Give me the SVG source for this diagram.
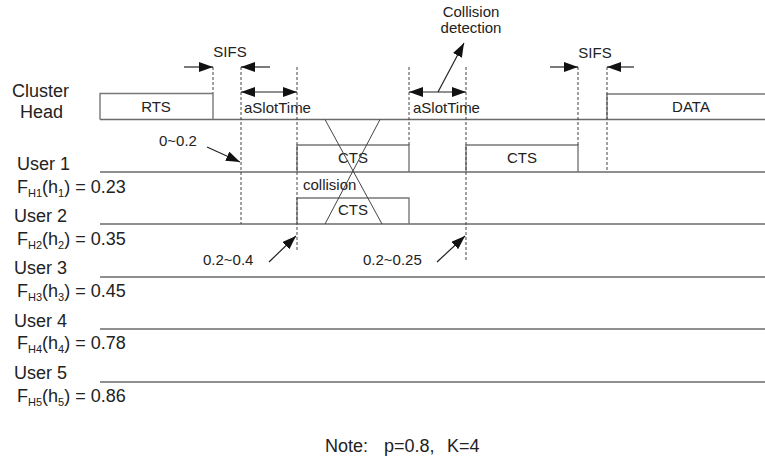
<svg xmlns="http://www.w3.org/2000/svg" width="765" height="459" viewBox="0 0 765 459">
<style>
text{font-family:"Liberation Sans",Arial,sans-serif;fill:#222}
.lbl{font-size:18px}
.sub{font-size:11px}
.t{font-size:15px}
.tl{stroke:#6a6a6a;stroke-width:1.6;fill:none}
.box{stroke:#777;stroke-width:1.4;fill:none}
.dash{stroke:#444;stroke-width:1;stroke-dasharray:3 2;fill:none}
.arr{stroke:#222;stroke-width:1.2;fill:none;marker-end:url(#ah)}
.dbl{stroke:#222;stroke-width:1.2;fill:none;marker-end:url(#ah);marker-start:url(#ahs)}
.x{stroke:#444;stroke-width:1;fill:none}
</style>
<defs>
<marker id="ah" markerUnits="userSpaceOnUse" markerWidth="14" markerHeight="10" refX="14" refY="5" orient="auto"><path d="M0,0 L14,5 L0,10 z" fill="#111"/></marker>
<marker id="ahs" markerUnits="userSpaceOnUse" markerWidth="14" markerHeight="10" refX="14" refY="5" orient="auto-start-reverse"><path d="M0,0 L14,5 L0,10 z" fill="#111"/></marker>
</defs>
<rect width="765" height="459" fill="#fff"/>

<g id="cluster-head">
<text class="lbl" x="12" y="97">Cluster</text>
<text class="lbl" x="20" y="118">Head</text>
<line class="tl" x1="100" y1="119.5" x2="765" y2="119.5"/>
<polyline class="box" points="100,119.5 100,93.5 213,93.5 213,119.5"/>
<text class="t" x="156" y="112" text-anchor="middle">RTS</text>
<polyline class="box" points="607,119.5 607,94 765,94"/>
<text class="t" x="691" y="112" text-anchor="middle">DATA</text>
</g>

<g id="user1">
<text class="lbl" x="17" y="170">User 1</text>
<text class="lbl" x="17" y="193">F<tspan class="sub" dy="4">H1</tspan><tspan dy="-4">(h</tspan><tspan class="sub" dy="4">1</tspan><tspan dy="-4">) = 0.23</tspan></text>
<line class="tl" x1="100" y1="172" x2="765" y2="172"/>
<polyline class="box" points="297,172 297,145 409,145 409,172"/>
<text class="t" x="353" y="163" text-anchor="middle">CTS</text>
<polyline class="box" points="466,172 466,145 578,145 578,172"/>
<text class="t" x="522" y="163" text-anchor="middle">CTS</text>
</g>

<g id="user2">
<text class="lbl" x="14" y="222">User 2</text>
<text class="lbl" x="17" y="245">F<tspan class="sub" dy="4">H2</tspan><tspan dy="-4">(h</tspan><tspan class="sub" dy="4">2</tspan><tspan dy="-4">) = 0.35</tspan></text>
<line class="tl" x1="100" y1="224" x2="765" y2="224"/>
<polyline class="box" points="297,224 297,198 409,198 409,224"/>
<text class="t" x="353" y="215" text-anchor="middle">CTS</text>
<text class="t" x="303" y="190">collision</text>
</g>

<g id="user3">
<text class="lbl" x="14" y="274">User 3</text>
<text class="lbl" x="17" y="297">F<tspan class="sub" dy="4">H3</tspan><tspan dy="-4">(h</tspan><tspan class="sub" dy="4">3</tspan><tspan dy="-4">) = 0.45</tspan></text>
<line class="tl" x1="100" y1="277" x2="765" y2="277"/>
</g>

<g id="user4">
<text class="lbl" x="14" y="327">User 4</text>
<text class="lbl" x="17" y="349">F<tspan class="sub" dy="4">H4</tspan><tspan dy="-4">(h</tspan><tspan class="sub" dy="4">4</tspan><tspan dy="-4">) = 0.78</tspan></text>
<line class="tl" x1="100" y1="329" x2="765" y2="329"/>
</g>

<g id="user5">
<text class="lbl" x="14" y="379">User 5</text>
<text class="lbl" x="17" y="402">F<tspan class="sub" dy="4">H5</tspan><tspan dy="-4">(h</tspan><tspan class="sub" dy="4">5</tspan><tspan dy="-4">) = 0.86</tspan></text>
<line class="tl" x1="100" y1="382" x2="765" y2="382"/>
</g>

<g id="guides">
<line class="dash" x1="213" y1="67" x2="213" y2="93"/>
<line class="dash" x1="241" y1="67" x2="241" y2="224"/>
<line class="dash" x1="297" y1="67" x2="297" y2="252"/>
<line class="dash" x1="409" y1="67" x2="409" y2="145"/>
<line class="dash" x1="466" y1="67" x2="466" y2="262"/>
<line class="dash" x1="578" y1="67" x2="578" y2="145"/>
<line class="dash" x1="607" y1="67" x2="607" y2="172"/>
<line class="x" x1="325" y1="119.5" x2="382" y2="224"/>
<line class="x" x1="380" y1="119.5" x2="325" y2="224"/>
</g>

<g id="connectors">
<line class="arr" x1="184" y1="67" x2="213" y2="67"/>
<line class="arr" x1="270" y1="67" x2="241" y2="67"/>
<line class="arr" x1="550" y1="67" x2="578" y2="67"/>
<line class="arr" x1="634" y1="67" x2="607" y2="67"/>
<line class="dbl" x1="241" y1="92" x2="297" y2="92"/>
<line class="dbl" x1="409" y1="92" x2="466" y2="92"/>
<line class="arr" x1="438" y1="92" x2="464" y2="43"/>
<line class="arr" x1="207" y1="147" x2="240" y2="162"/>
<line class="arr" x1="269" y1="262" x2="296" y2="236"/>
<line class="arr" x1="437" y1="262" x2="465" y2="236"/>
</g>

<g id="labels">
<text class="t" x="230" y="57" text-anchor="middle">SIFS</text>
<text class="t" x="595" y="58" text-anchor="middle">SIFS</text>
<text class="t" x="244" y="113">aSlotTime</text>
<text class="t" x="413" y="113">aSlotTime</text>
<text class="t" x="471" y="17" text-anchor="middle">Collision</text>
<text class="t" x="471" y="33" text-anchor="middle">detection</text>
<text class="t" x="159" y="146">0~0.2</text>
<text class="t" x="203" y="265">0.2~0.4</text>
<text class="t" x="363" y="265">0.2~0.25</text>
<text class="lbl" y="452"><tspan x="325">Note:</tspan><tspan x="384">p=0.8,</tspan><tspan x="447">K=4</tspan></text>
</g>
</svg>
